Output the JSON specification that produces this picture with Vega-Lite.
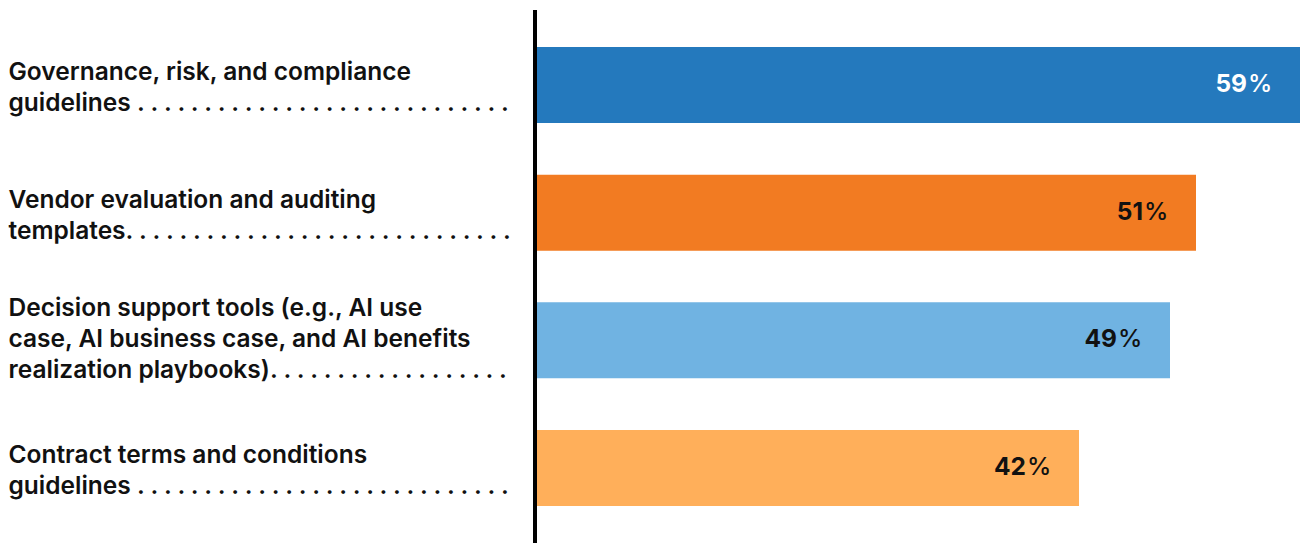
{
  "$schema": "https://vega.github.io/schema/vega-lite/v6.json",
  "width": 767,
  "height": 533,
  "autosize": {"type": "none"},
  "padding": {"left": 533, "top": 10, "right": 0, "bottom": 0},
  "background": "white",
  "config": {"view": {"stroke": null}, "font": "Inter"},
  "data": {
    "values": [
      {"label": "Governance, risk, and compliance|guidelines . . . . . . . . . . . . . . . . . . . . . . . . . . . .", "pct": 59, "cat": "A"},
      {"label": "Vendor evaluation and auditing|templates. . . . . . . . . . . . . . . . . . . . . . . . . . . . .", "pct": 51, "cat": "B"},
      {"label": "Decision support tools (e.g., AI use|case, AI business case, and AI benefits|realization playbooks). . . . . . . . . . . . . . . . . .", "pct": 49, "cat": "C"},
      {"label": "Contract terms and conditions|guidelines . . . . . . . . . . . . . . . . . . . . . . . . . . . .", "pct": 42, "cat": "D"}
    ]
  },
  "layer": [
    {
      "mark": {"type": "bar"},
      "encoding": {
        "y": {
          "field": "label",
          "type": "nominal",
          "sort": null,
          "scale": {"paddingInner": 0.405, "paddingOuter": 0.29},
          "axis": {
            "title": null,
            "ticks": false,
            "domain": false,
            "labelExpr": "split(datum.value, '|')",
            "labelAlign": "left",
            "labelPadding": 525,
            "labelFontSize": 24.5,
            "labelFontWeight": 600,
            "labelColor": "#111111",
            "labelLineHeight": 31,
            "labelLimit": 0,
            "labelOffset": {"condition": {"test": "indexof(datum.value, 'Decision') >= 0", "value": -31}, "value": -12}
          }
        },
        "x": {"field": "pct", "type": "quantitative", "scale": {"domain": [0, 59], "nice": false, "zero": true}, "axis": null},
        "color": {
          "field": "cat",
          "type": "nominal",
          "scale": {"domain": ["A", "B", "C", "D"], "range": ["#2479BD", "#F27B22", "#70B3E2", "#FFAF5A"]},
          "legend": null
        }
      }
    },
    {
      "mark": {"type": "text", "align": "right", "baseline": "middle", "dx": -53, "fontSize": 24.5, "fontWeight": "bold"},
      "encoding": {
        "y": {"field": "label", "type": "nominal", "sort": null},
        "x": {"field": "pct", "type": "quantitative"},
        "text": {"field": "pct", "type": "quantitative"},
        "color": {"condition": {"test": "datum.pct >= 55", "value": "white"}, "value": "#111111"}
      }
    },
    {
      "mark": {"type": "text", "align": "left", "baseline": "middle", "dx": -52, "fontSize": 24.5, "fontWeight": 500, "text": "%"},
      "encoding": {
        "y": {"field": "label", "type": "nominal", "sort": null},
        "x": {"field": "pct", "type": "quantitative"},
        "color": {"condition": {"test": "datum.pct >= 55", "value": "white"}, "value": "#111111"}
      }
    },
    {
      "mark": {"type": "rule", "color": "black", "strokeWidth": 4, "xOffset": 2},
      "encoding": {"x": {"datum": 0, "type": "quantitative"}}
    }
  ]
}
